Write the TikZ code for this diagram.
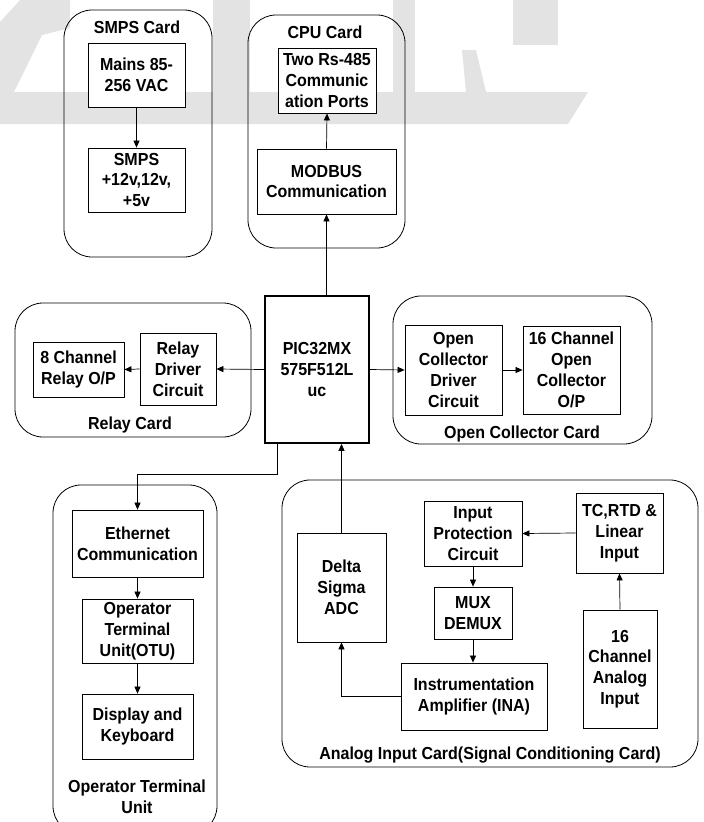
\documentclass[tikz,border=0pt]{standalone}
\usepackage{fontspec}
\setmainfont{Liberation Sans}[FakeStretch=0.92]
\usetikzlibrary{arrows.meta}
\begin{document}
\begin{tikzpicture}[x=1pt,y=-1pt,
  font=\fontsize{17.4}{20.8}\selectfont\bfseries,
  blk/.style={draw, line width=0.8pt, align=center, inner sep=1pt, fill=white},
  card/.style={draw, line width=0.8pt, rounded corners=28pt, inner sep=0pt},
  ttl/.style={align=center, inner sep=0pt},
  arr/.style={line width=0.7pt, -{Triangle[length=7pt,width=6pt]}},
  wm/.style={fill=black!11, draw=none}
]
\useasboundingbox (0,0) rectangle (704,822);
% faint watermark
\fill[wm] (0,92) -- (588,92) -- (568,124) -- (0,124) -- cycle;
\fill[wm] (213,0) rectangle (250,92);
\fill[wm] (393,0) rectangle (415,92);
\fill[wm] (513,0) rectangle (558,45);
\fill[wm] (462,50) -- (476,50) -- (486,92) -- (466,92) -- cycle;
\fill[wm] (0,22) -- (20,0) -- (70,0) -- (70,28) -- (42,35) -- (14,92) -- (0,92) -- cycle;

% SMPS card
\node[card, minimum width=148pt, minimum height=247pt] (smpscard) at (138,133.5) {};
\node[ttl] (smpstitle) at (137,27) {SMPS Card};
\node[blk, minimum width=97pt, minimum height=64pt] (mains) at (136.5,75) {Mains 85-\\256 VAC};
\node[blk, minimum width=97pt, minimum height=64pt] (smps) at (136.5,180) {SMPS\\+12v,12v,\\+5v};

% CPU card
\node[card, minimum width=157pt, minimum height=233pt] (cpucard) at (326.5,131.5) {};
\node[ttl] (cputitle) at (325,32) {CPU Card};
\node[blk, minimum width=98pt, minimum height=65pt] (rs485) at (327,80.5) {Two Rs-485\\Communic\\ation Ports};
\node[blk, minimum width=139pt, minimum height=65pt] (modbus) at (326.5,181.5) {MODBUS\\Communication};

% Relay card
\node[card, minimum width=236pt, minimum height=134pt] (relaycard) at (133,370) {};
\node[ttl] (relaytitle) at (130,425) {Relay Card};
\node[blk, minimum width=91pt, minimum height=55pt] (ch8) at (78.5,369.5) {8 Channel\\Relay O/P};
\node[blk, minimum width=76pt, minimum height=72pt] (rdriver) at (178,369) {Relay\\Driver\\Circuit};

% PIC
\node[blk, line width=1.8pt, minimum width=104pt, minimum height=147pt] (pic) at (317,369.5) {PIC32MX\\575F512L\\uc};

% Open collector card
\node[card, minimum width=259pt, minimum height=148pt] (occard) at (522.5,370) {};
\node[ttl] (octitle) at (522,434) {Open Collector Card};
\node[blk, minimum width=97pt, minimum height=90pt] (ocdrv) at (453.5,370) {Open\\Collector\\Driver\\Circuit};
\node[blk, minimum width=97pt, minimum height=88pt] (oc16) at (571.5,370) {16 Channel\\Open\\Collector\\O/P};

% Operator terminal card
\node[card, minimum width=164pt, minimum height=349pt] (otucard) at (135,659.5) {};
\node[blk, minimum width=131pt, minimum height=67pt] (ether) at (137.5,543.5) {Ethernet\\Communication};
\node[blk, minimum width=111pt, minimum height=64pt] (otu) at (137.5,631) {Operator\\Terminal\\Unit(OTU)};
\node[blk, minimum width=111pt, minimum height=65pt] (disp) at (137.5,726.5) {Display and\\Keyboard};
\node[ttl] (otutitle) at (137,797) {Operator Terminal\\Unit};

% Analog input card
\node[card, minimum width=416pt, minimum height=287pt] (ancard) at (490,623.5) {};
\node[ttl] (antitle) at (490,755) {Analog Input Card(Signal Conditioning Card)};
\node[blk, minimum width=89pt, minimum height=109pt] (adc) at (341.5,587.5) {Delta\\Sigma\\ADC};
\node[blk, minimum width=98pt, minimum height=65pt] (inprot) at (473,533.5) {Input\\Protection\\Circuit};
\node[blk, minimum width=87pt, minimum height=80pt] (tcrtd) at (619.5,533) {TC,RTD \&\\Linear\\Input};
\node[blk, minimum width=78pt, minimum height=52pt] (mux) at (473,613) {MUX\\DEMUX};
\node[blk, minimum width=146pt, minimum height=67pt] (ina) at (474,696.5) {Instrumentation\\Amplifier (INA)};
\node[blk, minimum width=74pt, minimum height=118pt] (an16) at (620,669) {16\\Channel\\Analog\\Input};

% connectors
\draw[arr] (mains.south) -- (smps.north);
\draw[arr] (pic.north -| modbus.south) -- (modbus.south);
\draw[arr] (modbus.north) -- (rs485.south);
\draw[arr] (pic.west) -- (rdriver.east);
\draw[arr] (rdriver.west) -- (ch8.east);
\draw[arr] (pic.east) -- (ocdrv.west);
\draw[arr] (ocdrv.east) -- (oc16.west);
\draw[arr] ([xshift=-40pt]pic.south) -- ++(0,30) -| (ether.north);
\draw[arr] (ether.south) -- (otu.north);
\draw[arr] (otu.south) -- (disp.north);
\draw[arr] (adc.north) -- (adc.north |- pic.south);
\draw[arr] (tcrtd.west) -- (inprot.east);
\draw[arr] (inprot.south) -- (mux.north);
\draw[arr] (mux.south) -- (mux.south |- ina.north);
\draw[arr] (ina.west) -| (adc.south);
\draw[arr] (an16.north) -- (tcrtd.south);
\end{tikzpicture}
\end{document}
